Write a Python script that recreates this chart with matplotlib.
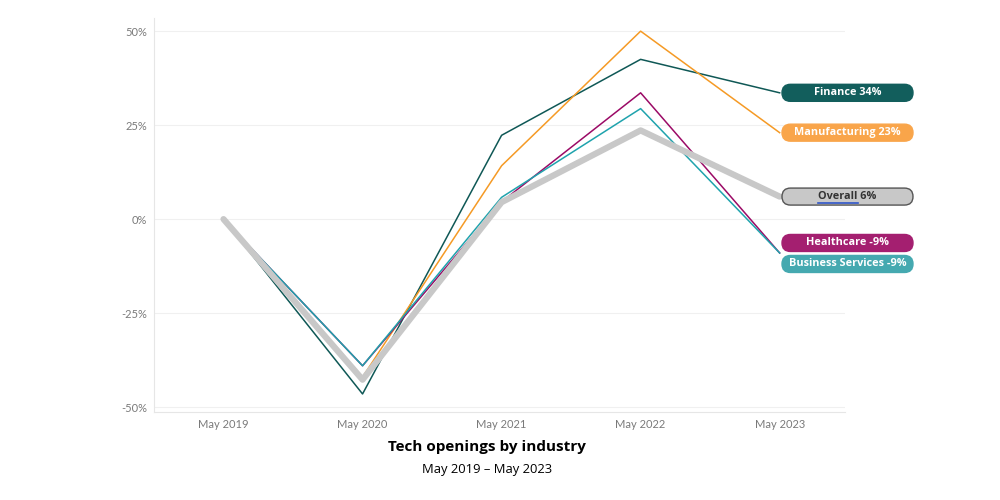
"""Tech openings by industry, May 2019 - May 2023"""

import matplotlib
matplotlib.use("Agg")
import matplotlib.pyplot as plt
from matplotlib.patches import FancyBboxPatch
from matplotlib.transforms import IdentityTransform
from matplotlib.ticker import FuncFormatter

periods = ["May 2019", "May 2020", "May 2021", "May 2022", "May 2023"]

finance = [0, -46.5, 22.3, 42.5, 33.6]
manufacturing = [0, -42, 14.2, 50, 23]
healthcare = [0, -39, 4.6, 33.6, -9]
business_services = [0, -39, 5.8, 29.4, -9]
overall = [0, -42.7, 4.5, 23.6, 6]

yticks = [50, 25, 0, -25, -50]

# name, values, line colour, box colour, text colour, label nudge in pixels
series = [
    ("Finance", finance, "#0f5856", "#125e5c", "white", 0),
    ("Manufacturing", manufacturing, "#f59a25", "#f9a54a", "white", 0),
    ("Healthcare", healthcare, "#9b0a66", "#a41f70", "white", 10),
    ("Business Services", business_services, "#1fa3ad", "#45a9b0", "white", -11),
]

plt.rcParams["font.family"] = ["Open Sans", "DejaVu Sans"]


def add_label(fig, ax, text, value, nudge, face, edge, tcolor, underline=None):
    """Pill shaped end-of-line label"""
    _, ypix = ax.transData.transform((4, value))
    ypix += nudge
    w, h = 131, 17
    x0 = 782
    box = FancyBboxPatch((x0, ypix - h / 2), w, h,
                         boxstyle="round,pad=0,rounding_size=8.5",
                         transform=IdentityTransform(),
                         facecolor=face, edgecolor=edge, linewidth=1.0)
    fig.add_artist(box)
    t = fig.text((x0 + w / 2) / 1000, ypix / 500, text, ha="center",
                 va="center", fontsize=7.8, fontweight="bold", color=tcolor)
    if underline:
        fig.canvas.draw()
        r = fig.canvas.get_renderer()
        bb = t.get_window_extent(r)
        tmp = fig.text(0, 0, underline, fontsize=7.8, fontweight="bold")
        uw = tmp.get_window_extent(r).width
        tmp.remove()
        fig.add_artist(plt.Line2D([bb.x0, bb.x0 + uw],
                                  [ypix - 6.5, ypix - 6.5],
                                  transform=IdentityTransform(),
                                  color="#2f55c8", linewidth=1.2))


def plot_tech_openings():
    fig = plt.figure(figsize=(10, 5), dpi=100)
    ax = fig.add_axes([0.154, 0.176, 0.691, 0.788])
    x = list(range(len(periods)))

    for name, vals, lc, bc, tc, nudge in series:
        ax.plot(x, vals, color=lc, linewidth=1.1, zorder=3)
    ax.plot(x, overall, color="#c8c8c8", linewidth=4.5,
            solid_capstyle="round", zorder=4)

    ax.set_xlim(-0.5, 4.47)
    ax.set_ylim(-51.3, 53.5)
    ax.set_xticks(x)
    ax.set_xticklabels(periods)
    ax.set_yticks(yticks)
    ax.yaxis.set_major_formatter(FuncFormatter(lambda v, p: f"{v:.0f}%"))
    ax.tick_params(length=0, labelsize=8, labelcolor="#7a7a7a", pad=5)
    for lbl in ax.get_xticklabels() + ax.get_yticklabels():
        lbl.set_fontfamily(["Lato", "DejaVu Sans"])
    ax.grid(axis="y", color="#f0f0f0", linewidth=0.8)
    for s in ["top", "right"]:
        ax.spines[s].set_visible(False)
    for s in ["left", "bottom"]:
        ax.spines[s].set_color("#e6e6e6")

    for name, vals, lc, bc, tc, nudge in series:
        add_label(fig, ax, f"{name} {vals[-1]:.0f}%", vals[-1], nudge,
                  bc, bc, tc)
    add_label(fig, ax, f"Overall {overall[-1]:.0f}%", overall[-1], 0,
              "#c8c8c8", "#555555", "#333333", underline="Overall")

    fig.text(0.487, 0.106, "Tech openings by industry", ha="center",
             va="center", fontsize=11, fontweight="bold", color="black")
    fig.text(0.487, 0.062, "May 2019 \u2013 May 2023", ha="center",
             va="center", fontsize=9.4, color="black")

    fig.savefig("out.png", dpi=100, facecolor="white")


if __name__ == "__main__":
    plot_tech_openings()
